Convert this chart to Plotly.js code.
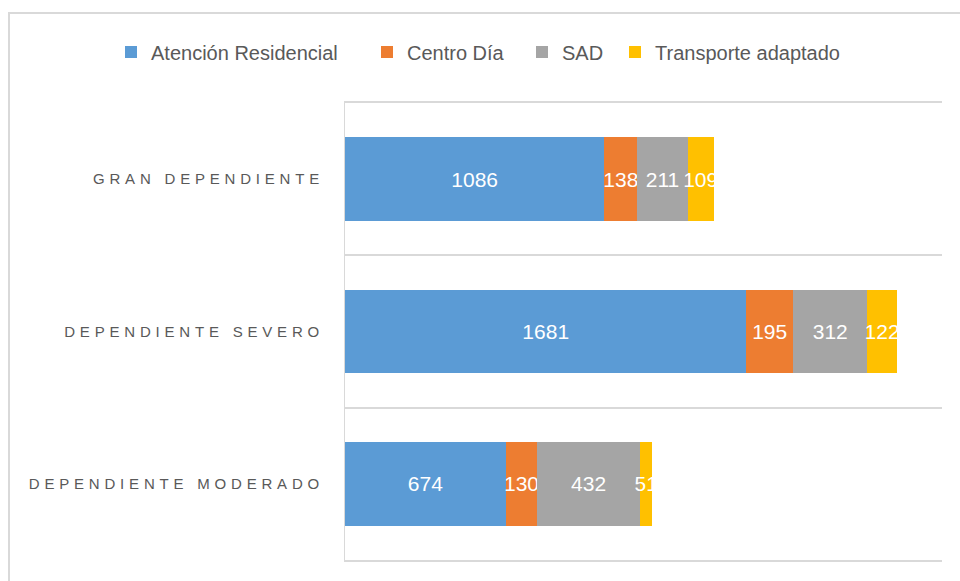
<!DOCTYPE html>
<html><head><meta charset="utf-8">
<script src="https://cdn.plot.ly/plotly-3.0.1.min.js"></script>
<style>
body{margin:0;padding:0;background:#fff;}
#wrap{position:relative;width:960px;height:581px;}
#frame{position:absolute;left:8px;top:12px;width:952px;height:569px;border-top:2px solid #d9d9d9;border-left:2px solid #d9d9d9;pointer-events:none;}
#chart{position:absolute;left:0;top:0;width:960px;height:581px;}
.ytick text{letter-spacing:4.8px;}
</style>
</head><body>
<div id="wrap"><div id="chart"></div><div id="frame"></div></div>
<script>
const categories = ["GRAN DEPENDIENTE", "DEPENDIENTE SEVERO", "DEPENDIENTE MODERADO"];
const seriesNames = ["Atención Residencial", "Centro Día", "SAD", "Transporte adaptado"];
const atencionResidencial = [1086, 1681, 674];
const centroDia = [138, 195, 130];
const sad = [211, 312, 432];
const transporteAdaptado = [109, 122, 51];
const colors = ["#5B9BD5", "#ED7D31", "#A5A5A5", "#FFC000"];
const values = [atencionResidencial, centroDia, sad, transporteAdaptado];
const legendIds = ["legend", "legend2", "legend3", "legend4"];
const legendX = [111, 367, 522, 615];

const font = "Liberation Sans, Arial, sans-serif";
const traces = values.map((v, i) => ({
  type: "bar",
  orientation: "h",
  name: seriesNames[i],
  legend: legendIds[i],
  y: categories,
  x: v,
  text: v.map(String),
  textposition: "inside",
  insidetextanchor: "middle",
  textangle: 0,
  constraintext: "none",
  textfont: {color: "#ffffff", size: 21, family: font},
  marker: {color: colors[i]},
  hoverinfo: "x+name"
}));

const layout = {
  width: 960, height: 581,
  margin: {l: 345, r: 18, t: 103, b: 21},
  barmode: "stack",
  bargap: 0.45,
  paper_bgcolor: "#ffffff",
  plot_bgcolor: "#ffffff",
  showlegend: true,
  xaxis: {
    range: [0, 2500], showgrid: false, showticklabels: false, zeroline: false,
    showline: true, mirror: true, linecolor: "#d9d9d9", linewidth: 2, ticks: ""
  },
  yaxis: {
    autorange: "reversed", type: "category",
    tickson: "boundaries", showgrid: true, gridcolor: "#d9d9d9", gridwidth: 2,
    showline: true, linecolor: "#d9d9d9", linewidth: 1,
    ticks: "", ticklen: 0,
    tickfont: {family: font, size: 15, color: "#595959"},
    ticklabelstandoff: 17
  }
};
legendIds.forEach((id, i) => {
  layout[id] = {
    orientation: "h", x: legendX[i] / 960, xanchor: "left", xref: "container",
    y: 1 - 52 / 581, yanchor: "middle", yref: "container",
    font: {family: font, size: 20, color: "#595959"},
    itemwidth: 30, bgcolor: "rgba(0,0,0,0)"
  };
});

Plotly.newPlot("chart", traces, layout, {displayModeBar: false, staticPlot: true});
</script>
</body></html>
